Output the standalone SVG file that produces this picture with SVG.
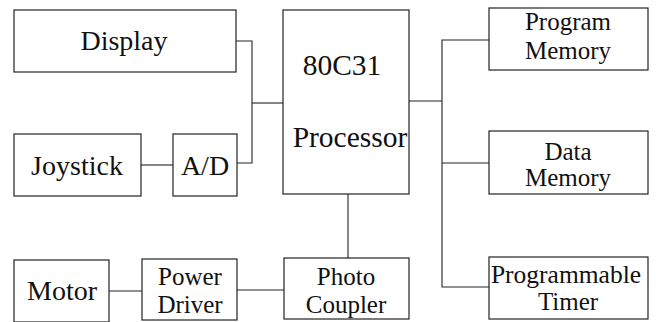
<svg xmlns="http://www.w3.org/2000/svg" width="656" height="322" viewBox="0 0 656 322">
<style>
.box{fill:#fff;stroke:#222;stroke-width:1.2}
.ln{fill:none;stroke:#222;stroke-width:1.1}
text{font-family:'Liberation Serif','Times New Roman',Times,'DejaVu Serif',serif;fill:#111;text-anchor:middle}
.l{font-size:28px}
.p{font-size:29.5px}
.m{font-size:25px}
</style>
<rect width="656" height="322" fill="#fff"/>
<g id="connectors">
<polyline class="ln" points="236,41 252,41 252,163 237,163"/>
<line class="ln" x1="252" y1="103" x2="283" y2="103"/>
<line class="ln" x1="141" y1="165" x2="173" y2="165"/>
<line class="ln" x1="409" y1="101" x2="442" y2="101"/>
<polyline class="ln" points="489,40 442,40 442,287 489,287"/>
<line class="ln" x1="442" y1="163" x2="489" y2="163"/>
<line class="ln" x1="348" y1="194" x2="348" y2="258"/>
<line class="ln" x1="109" y1="291" x2="142" y2="291"/>
<line class="ln" x1="237" y1="290" x2="284" y2="290"/>
</g>
<g id="display"><rect class="box" x="14" y="10" width="222" height="62"/><text class="l" x="124" y="50">Display</text></g>
<g id="joystick"><rect class="box" x="14" y="134" width="127" height="62"/><text class="l" x="77" y="175">Joystick</text></g>
<g id="ad"><rect class="box" x="173" y="134" width="64" height="62"/><text class="l" x="205" y="175">A/D</text></g>
<g id="processor"><rect class="box" x="283" y="10" width="126" height="184"/><text class="p" x="342" y="75">80C31</text><text class="p" x="350" y="147">Processor</text></g>
<g id="program-memory"><rect class="box" x="489" y="8" width="159" height="62"/><text class="m" x="568" y="30">Program</text><text class="m" x="568" y="59">Memory</text></g>
<g id="data-memory"><rect class="box" x="489" y="131" width="159" height="63"/><text class="m" x="568" y="160">Data</text><text class="m" x="568" y="186">Memory</text></g>
<g id="programmable-timer"><rect class="box" x="489" y="257" width="159" height="62"/><text class="m" x="566" y="283" style="font-size:25.5px">Programmable</text><text class="m" x="568" y="310">Timer</text></g>
<g id="motor"><rect class="box" x="14" y="260" width="95" height="62"/><text class="l" x="62" y="300">Motor</text></g>
<g id="power-driver"><rect class="box" x="142" y="259" width="95" height="61"/><text class="m" x="190" y="285">Power</text><text class="m" x="190" y="313">Driver</text></g>
<g id="photo-coupler"><rect class="box" x="284" y="258" width="125" height="61"/><text class="m" x="346" y="285">Photo</text><text class="m" x="346" y="313">Coupler</text></g>
</svg>
